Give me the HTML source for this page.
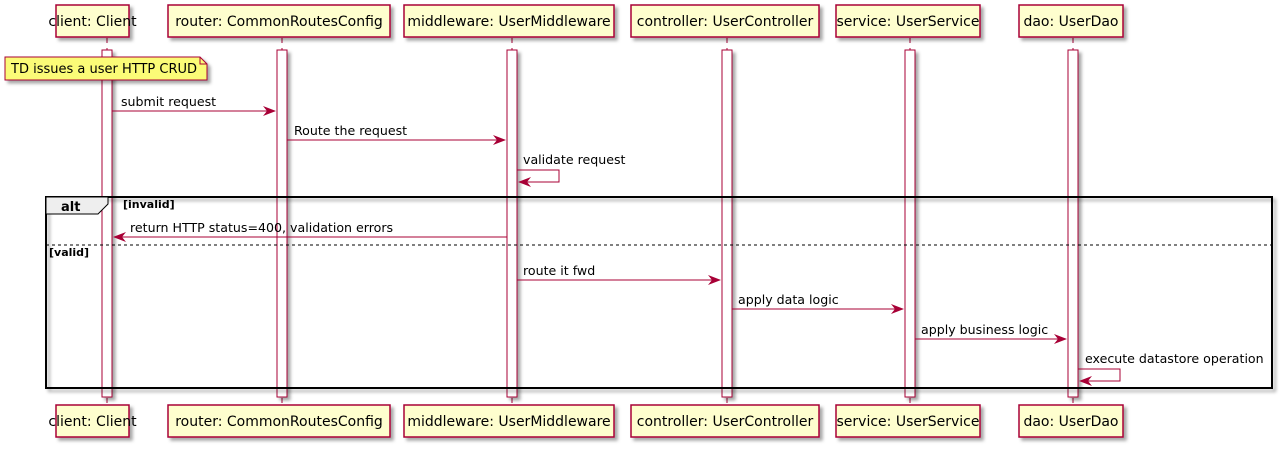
<!DOCTYPE html>
<html><head><meta charset="utf-8"><style>
html,body{margin:0;padding:0;background:#fff;width:1286px;height:449px;overflow:hidden}
text{font-family:"DejaVu Sans","Liberation Sans",sans-serif}
</style></head><body>
<svg width="1286" height="449" xmlns="http://www.w3.org/2000/svg">
<defs>
<filter id="sh" x="-10%" y="-10%" width="130%" height="140%"><feOffset dx="3" dy="3" in="SourceAlpha" result="o"/><feGaussianBlur stdDeviation="1.5" in="o" result="b"/><feColorMatrix in="b" type="matrix" values="0 0 0 0 0  0 0 0 0 0  0 0 0 0 0  0 0 0 0.35 0" result="c"/><feMerge><feMergeNode in="c"/><feMergeNode in="SourceGraphic"/></feMerge></filter>
</defs>
<g stroke="#A80036" stroke-width="1" stroke-dasharray="5,5">
<line x1="107" y1="38" x2="107" y2="403"/><line x1="282" y1="38" x2="282" y2="403"/>
<line x1="512" y1="38" x2="512" y2="403"/><line x1="727" y1="38" x2="727" y2="403"/>
<line x1="910" y1="38" x2="910" y2="403"/><line x1="1073" y1="38" x2="1073" y2="403"/>
</g>
<g fill="#fff" stroke="#A80036" filter="url(#sh)">
<rect x="102" y="50" width="10" height="347"/><rect x="277" y="50" width="10" height="347"/>
<rect x="507" y="50" width="10" height="347"/><rect x="722" y="50" width="10" height="347"/>
<rect x="905" y="50" width="10" height="347"/><rect x="1068" y="50" width="10" height="347"/>
</g>
<g fill="#FEFECE" stroke="#A80036" stroke-width="1.5" filter="url(#sh)">
<rect x="56" y="5" width="73" height="32"/><rect x="168" y="5" width="222" height="32"/>
<rect x="404" y="5" width="210" height="32"/><rect x="631" y="5" width="188" height="32"/>
<rect x="836" y="5" width="144" height="32"/><rect x="1019" y="5" width="104" height="32"/>
<rect x="56" y="405" width="73" height="32"/><rect x="168" y="405" width="222" height="32"/>
<rect x="404" y="405" width="210" height="32"/><rect x="631" y="405" width="188" height="32"/>
<rect x="836" y="405" width="144" height="32"/><rect x="1019" y="405" width="104" height="32"/>
</g>
<g font-size="14" text-anchor="middle" fill="#000">
<text x="92.5" y="26">client: Client</text><text x="279" y="26">router: CommonRoutesConfig</text>
<text x="509" y="26">middleware: UserMiddleware</text><text x="725" y="26">controller: UserController</text>
<text x="908" y="26">service: UserService</text><text x="1071" y="26">dao: UserDao</text>
<text x="92.5" y="426">client: Client</text><text x="279" y="426">router: CommonRoutesConfig</text>
<text x="509" y="426">middleware: UserMiddleware</text><text x="725" y="426">controller: UserController</text>
<text x="908" y="426">service: UserService</text><text x="1071" y="426">dao: UserDao</text>
</g>
<path d="M5,57 L200,57 L207,64 L207,80 L5,80 Z" fill="#FBFB77" stroke="#A80036" filter="url(#sh)"/>
<path d="M200,57 L200,64 L207,64" fill="none" stroke="#A80036"/>
<text x="11" y="73" font-size="13">TD issues a user HTTP CRUD</text>
<rect x="46" y="197" width="1226" height="191" fill="none" stroke="#000" stroke-width="2" filter="url(#sh)"/>
<path d="M46,197 L108,197 L108,204 L98,214 L46,214 Z" fill="#EEEEEE" stroke="#000" stroke-width="1"/>
<text x="61" y="211" font-size="13" font-weight="bold">alt</text>
<text x="123" y="208" font-size="11" font-weight="bold">[invalid]</text>
<line x1="46" y1="245" x2="1272" y2="245" stroke="#000" stroke-dasharray="3,3"/>
<text x="49" y="256" font-size="11" font-weight="bold">[valid]</text>
<g stroke="#A80036" fill="none">
<line x1="112" y1="111" x2="275" y2="111"/>
<line x1="287" y1="140" x2="505" y2="140"/>
<polyline points="517,170 559,170 559,182 519,182"/>
<line x1="507" y1="237" x2="114" y2="237"/>
<line x1="517" y1="280" x2="720" y2="280"/>
<line x1="732" y1="309" x2="903" y2="309"/>
<line x1="915" y1="339" x2="1066" y2="339"/>
<polyline points="1078,369 1120,369 1120,381 1080,381"/>
</g>
<g fill="#A80036">
<path d="M276,111 L263,106 L267,111 L263,116 Z"/>
<path d="M506,140 L493,135 L497,140 L493,145 Z"/>
<path d="M518,182 L531,177 L527,182 L531,187 Z"/>
<path d="M113,237 L126,232 L122,237 L126,242 Z"/>
<path d="M721,280 L708,275 L712,280 L708,285 Z"/>
<path d="M904,309 L891,304 L895,309 L891,314 Z"/>
<path d="M1067,339 L1054,334 L1058,339 L1054,344 Z"/>
<path d="M1079,381 L1092,376 L1088,381 L1092,386 Z"/>
</g>
<g font-size="12.6" fill="#000">
<text x="121" y="106">submit request</text>
<text x="294" y="135">Route the request</text>
<text x="523" y="164">validate request</text>
<text x="130" y="232">return HTTP status=400, validation errors</text>
<text x="523" y="275">route it fwd</text>
<text x="738" y="304">apply data logic</text>
<text x="921" y="334">apply business logic</text>
<text x="1085" y="363">execute datastore operation</text>
</g>
</svg>
</body></html>
